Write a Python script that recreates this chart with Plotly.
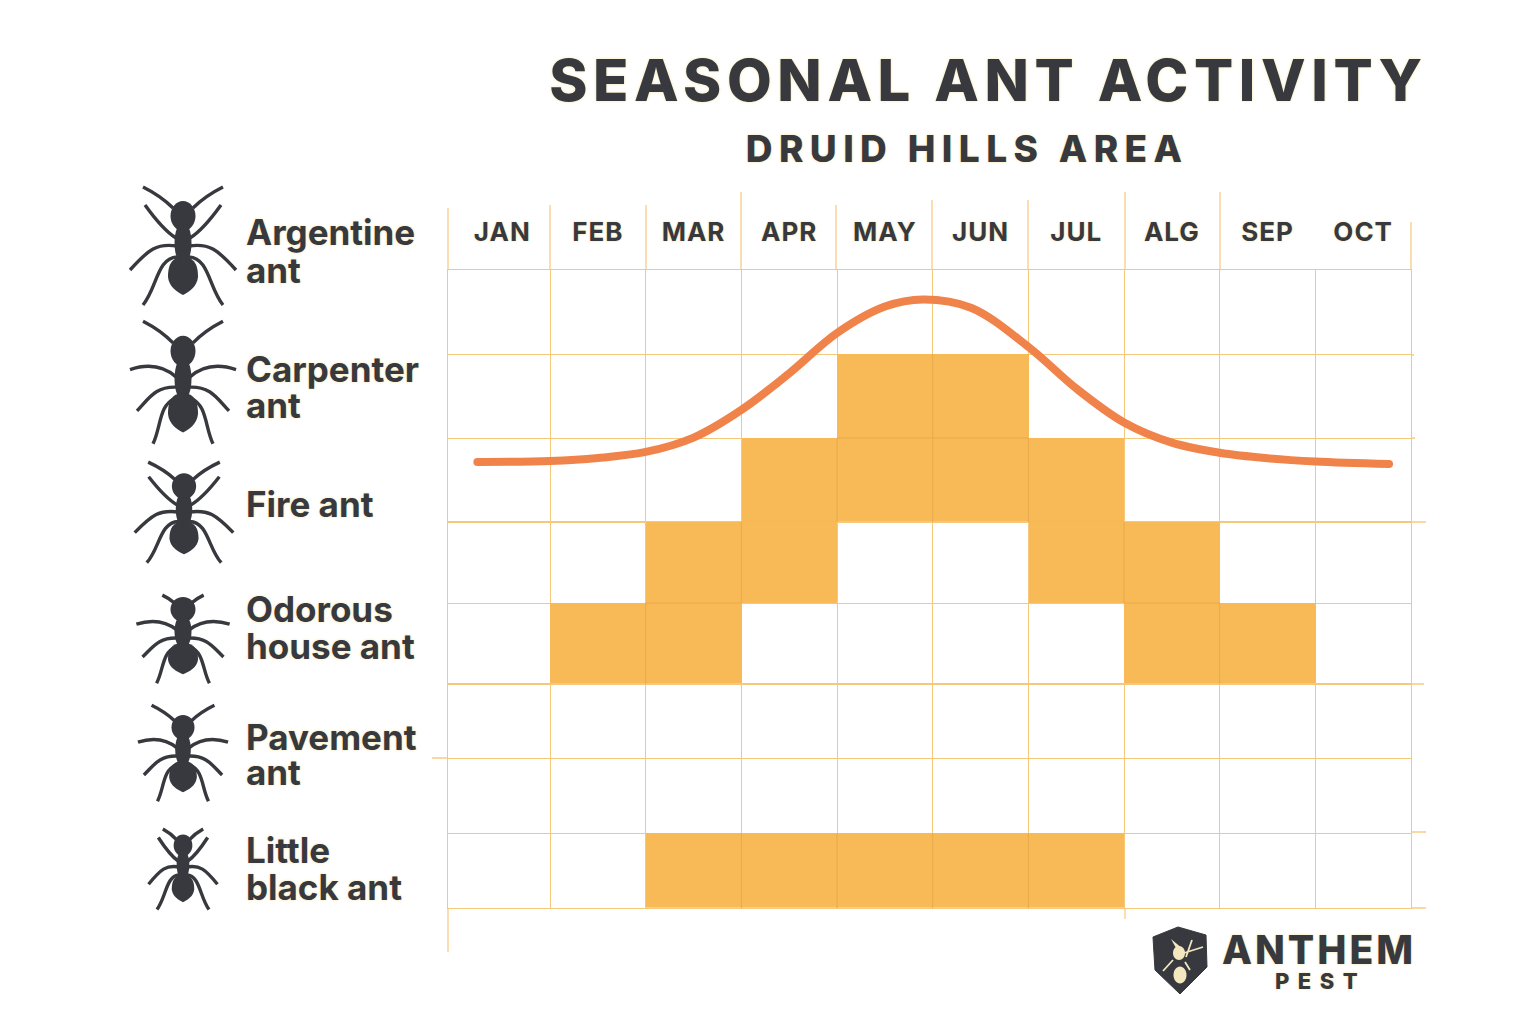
import plotly.graph_objects as go
from plotly.subplots import make_subplots

W, H = 1536, 1024
DARK = '#37393e'
GRID = '#f6c87c'
CELL = '#f7ba57'
SEAM = '#e8a94a'
CURVE = '#f0834a'
HALO = '0 0 3px #f3e2a0'
FONT = 'Inter'

# Data
months = ['JAN', 'FEB', 'MAR', 'APR', 'MAY', 'JUN', 'JUL', 'ALG', 'SEP', 'OCT']
month_idx = list(range(len(months)))
activity = [
    [0, 0, 0, 0, 0, 0, 0, 0, 0, 0],
    [0, 0, 0, 0, 1, 1, 0, 0, 0, 0],
    [0, 0, 0, 1, 1, 1, 1, 0, 0, 0],
    [0, 0, 1, 1, 0, 0, 1, 1, 0, 0],
    [0, 1, 1, 0, 0, 0, 0, 1, 1, 0],
    [0, 0, 0, 0, 0, 0, 0, 0, 0, 0],
    [0, 0, 0, 0, 0, 0, 0, 0, 0, 0],
    [0, 0, 1, 1, 1, 1, 1, 0, 0, 0],
]
curve_month = [-0.26, 0.5, 1.0, 1.5, 2.0, 2.5, 3.0, 3.5, 4.0, 4.4, 4.9, 5.5, 6.0, 6.5, 7.0, 7.5, 8.0, 8.5, 9.27]
curve_level = [23.8, 24.2, 25.4, 27.8, 33.5, 44.5, 59.0, 75.0, 85.5, 88.3, 85.0, 69.5, 53.0, 39.5, 31.5, 27.5, 25.3,
               24.0, 23.0]
ant_names = [['Argentine', 'ant'], ['Carpenter', 'ant'], ['Fire ant'],
             ['Odorous', 'house ant'], ['Pavement', 'ant'], ['Little', 'black ant']]


def px(x):
    return x / W


def py(y):
    return 1 - y / H


def pt(x, y):
    return f'{px(x):.5f},{py(y):.5f}'


def ellipse(cx, cy, rx, ry):
    k = 0.55
    return (f'M{pt(cx - rx, cy)} '
            f'C{pt(cx - rx, cy - k * ry)} {pt(cx - k * rx, cy - ry)} {pt(cx, cy - ry)} '
            f'C{pt(cx + k * rx, cy - ry)} {pt(cx + rx, cy - k * ry)} {pt(cx + rx, cy)} '
            f'C{pt(cx + rx, cy + k * ry)} {pt(cx + k * rx, cy + ry)} {pt(cx, cy + ry)} '
            f'C{pt(cx - k * rx, cy + ry)} {pt(cx - rx, cy + k * ry)} {pt(cx - rx, cy)} Z')


def filled(path, color=DARK):
    return dict(type='path', xref='paper', yref='paper', path=path, line=dict(color=color, width=0), fillcolor=color)


# leg outlines for the two ant poses, left side, offsets from the ant centre
LEGS_TALL = [
    [(-7, -8), (-20, -16), (-38, -41)],
    [(-6, 0), (-26, -3), (-34, 3), (-53, 24)],
    [(-6, 11), (-26, 12), (-26, 42), (-40, 59)],
]
LEGS_WIDE = [
    [(-7, -5), (-26, -21), (-53, -12)],
    [(-6, 5), (-28, 4), (-34, 16), (-46, 28)],
    [(-8, 16), (-24, 22), (-22, 44), (-30, 60)],
]


def ant_shapes(cx, cy, sx, sy, body, wide=False, feeler=1.0):
    line_path = ''
    antenna = [(-10, -38), (-10 - 12 * feeler, -38 - 12 * feeler), (-10 - 30 * feeler, -38 - 21 * feeler)]
    for side in (1, -1):
        for leg in [antenna] + (LEGS_WIDE if wide else LEGS_TALL):
            p = [(cx + side * dx * sx, cy + dy * sy) for dx, dy in leg]
            if len(p) == 3:
                line_path += f'M{pt(*p[0])} Q{pt(*p[1])} {pt(*p[2])} '
            else:
                line_path += f'M{pt(*p[0])} C{pt(*p[1])} {pt(*p[2])} {pt(*p[3])} '

    def gx(d):
        return cx + d * body

    def gy(d):
        return cy + d * sy
    abdomen = (f'M{pt(gx(0), gy(11))} '
               f'C{pt(gx(-12), gy(11))} {pt(gx(-15), gy(20))} {pt(gx(-15), gy(31))} '
               f'C{pt(gx(-14), gy(41))} {pt(gx(-6), gy(46))} {pt(gx(0), gy(49))} '
               f'C{pt(gx(6), gy(46))} {pt(gx(14), gy(41))} {pt(gx(15), gy(31))} '
               f'C{pt(gx(15), gy(20))} {pt(gx(12), gy(11))} {pt(gx(0), gy(11))} Z')
    return [
        dict(type='path', xref='paper', yref='paper', path=line_path, line=dict(color=DARK, width=3.4),
             fillcolor='rgba(0,0,0,0)'),
        filled(ellipse(cx, gy(-30), 12.5 * body, 15 * sy)),
        filled(ellipse(cx, gy(-3), 8.5 * body, 21 * sy)),
        filled(abdomen),
    ]


def stub(x0, y0, x1, y1, width=1.2):
    return dict(type='line', xref='paper', yref='paper', x0=px(x0), y0=py(y0), x1=px(x1), y1=py(y1),
                line=dict(color=GRID, width=width), layer='below')


# Three stacked bands because the row heights change down the chart
bands = [(270, 522, 0, 2), (522, 684, 3, 4), (684, 908, 5, 7)]
fig = make_subplots(rows=3, cols=1, shared_xaxes=True, vertical_spacing=0)

for i, (top, bottom, first, last) in enumerate(bands):
    row = i + 1
    fig.add_trace(go.Heatmap(z=activity, x=month_idx, y=list(range(len(activity))), zmin=0, zmax=1,
                             colorscale=[[0, 'rgba(255,255,255,0)'], [1, CELL]], showscale=False,
                             hoverinfo='skip'), row=row, col=1)
    fig.update_yaxes(domain=[py(bottom), py(top)], range=[last + 0.5, first - 0.5],
                     tickvals=[v + 0.5 for v in range(first, last)], ticks='', showticklabels=False,
                     showgrid=True, gridcolor=GRID, gridwidth=1.4, zeroline=False,
                     showline=True, linecolor=GRID, linewidth=1, mirror=True, row=row, col=1)
    fig.update_xaxes(domain=[px(448), px(1411)], range=[-0.567, 9.5], tickvals=month_idx, ticktext=months,
                     ticks='', showticklabels=False, showgrid=False, zeroline=False,
                     minor=dict(tickvals=[m + 0.5 for m in month_idx[:-1]], showgrid=True, gridcolor=GRID,
                                gridwidth=1.3, ticks=''),
                     showline=True, linecolor=GRID, linewidth=1, mirror=True, row=row, col=1)

fig.update_xaxes(showticklabels=True, side='top', ticklabelstandoff=18,
                 tickfont=dict(family=FONT, size=26, color=DARK, weight=700, shadow=HALO), row=1, col=1)

# activity curve sits on its own hidden scale over the top band
fig.add_trace(go.Scatter(x=curve_month, y=curve_level, mode='lines', yaxis='y4', xaxis='x',
                         line=dict(color=CURVE, width=8, shape='spline', smoothing=1), hoverinfo='skip',
                         showlegend=False))
fig.add_trace(go.Scatter(x=[curve_month[0], curve_month[-1]], y=[curve_level[0], curve_level[-1]], mode='markers',
                         yaxis='y4', xaxis='x', marker=dict(color=CURVE, size=8), hoverinfo='skip', showlegend=False))

shapes = []


def band_ref(r):
    for n, (_, _, first, last) in enumerate(bands):
        if first <= r <= last:
            return 'y' if n == 0 else f'y{n + 1}'


# faint seams between neighbouring filled cells
for r, cells in enumerate(activity):
    for c, on in enumerate(cells):
        if not on:
            continue
        if c + 1 < len(cells) and cells[c + 1]:
            shapes.append(dict(type='line', xref='x', yref=band_ref(r), x0=c + 0.5, x1=c + 0.5, y0=r - 0.5, y1=r + 0.5,
                               line=dict(color=SEAM, width=1), layer='above'))
        if r + 1 < len(activity) and activity[r + 1][c]:
            shapes.append(dict(type='line', xref='x', yref=band_ref(r), x0=c - 0.5, x1=c + 0.5, y0=r + 0.5, y1=r + 0.5,
                               line=dict(color=SEAM, width=1), layer='above'))

# grid lines that run past the plot area
for x, y0 in [(448, 208), (550, 205), (646, 205), (741, 192), (836, 205), (932, 200), (1028, 200), (1125, 192),
              (1220, 192), (1411, 222)]:
    shapes.append(stub(x, y0, x, 270))
shapes.append(stub(448, 908, 448, 952))
shapes.append(stub(1125, 908, 1125, 919))
for y, x0, x1 in [(522, 1411, 1426), (684, 1411, 1424), (832, 1411, 1426), (758, 432, 448), (908, 1411, 1426),
                  (355, 1411, 1414), (438, 1411, 1415)]:
    shapes.append(stub(x0, y, x1, y, 1.4))

# ant icons: centre x, centre y, x scale, y scale, body scale, pose, antenna length
for cx, cy, sx, sy, body, wide, feeler in [
    (183, 246, 1.0, 1.0, 1.0, False, 1.0), (183, 382, 1.0, 1.03, 1.0, True, 1.0),
    (184, 512, 0.93, 0.86, 0.97, False, 0.95), (183, 634, 0.88, 0.82, 1.0, True, 0.45),
    (183, 752, 0.85, 0.82, 0.92, True, 0.9), (183, 867, 0.65, 0.72, 0.75, False, 0.7),
]:
    shapes += ant_shapes(cx, cy, sx, sy, body, wide, feeler)

# logo shield
shield = [(1153, 937), (1178, 927), (1206, 935), (1207, 967), (1180, 994), (1155, 970)]
shapes.append(dict(type='path', xref='paper', yref='paper', fillcolor=DARK, line=dict(color=DARK, width=1),
                   path='M' + ' L'.join(pt(*p) for p in shield) + ' Z'))
PALE = '#f3e7c0'
shapes.append(filled(ellipse(1180, 975, 6.5, 8.5), PALE))
shapes.append(filled(ellipse(1179, 953, 6, 7), PALE))
shapes.append(filled(f'M{pt(1171, 939)} L{pt(1176, 948)} L{pt(1183, 949)} Z', PALE))
shapes.append(dict(type='path', xref='paper', yref='paper', fillcolor='rgba(0,0,0,0)', line=dict(color=PALE, width=1.8),
                   path=f'M{pt(1184, 953)} L{pt(1203, 947)} M{pt(1186, 957)} L{pt(1192, 940)} '
                        f'M{pt(1173, 960)} L{pt(1163, 971)} M{pt(1185, 962)} L{pt(1190, 970)}'))

annotations = []


def add_text(text, x, y, size, weight=700, color=DARK, anchor='center'):
    annotations.append(dict(text=text, x=px(x), y=py(y), xref='paper', yref='paper', xanchor=anchor, yanchor='middle',
                            showarrow=False, font=dict(family=FONT, size=size, color=color, weight=weight,
                                                       shadow=HALO)))


add_text('SEASONAL ANT ACTIVITY', 988, 80, 58, weight=800)
add_text('DRUID HILLS AREA', 967, 148, 37, weight=800)
add_text('ANTHEM', 1319, 949, 39, weight=800)
add_text('PEST', 1320, 981, 22, weight=800)

label_y = [[232, 270], [369, 405], [504], [609, 646], [737, 772], [850, 887]]
for lines, ys in zip(ant_names, label_y):
    for text, y in zip(lines, ys):
        add_text(text, 244, y, 35, color=DARK, anchor='left')

fig.update_layout(
    width=W, height=H, margin=dict(l=0, r=0, t=0, b=0, pad=0), paper_bgcolor='white', plot_bgcolor='white',
    showlegend=False, shapes=shapes, annotations=annotations,
    yaxis4=dict(overlaying='y', domain=[py(522), py(270)], range=[0, 100], visible=False),
)

# plotly has no letter spacing option, so it is set on the drawn text afterwards
post = """
document.body.style.margin = '0';
document.body.style.overflow = 'hidden';
var spacing = {'SEASONAL ANT ACTIVITY': '5.6px', 'DRUID HILLS AREA': '6.4px', 'ANTHEM': '3px', 'PEST': '8.5px'};
document.querySelectorAll('.annotation-text').forEach(function (t) {
    if (spacing[t.textContent]) { t.style.letterSpacing = spacing[t.textContent]; }
});
document.querySelectorAll('.xtick text').forEach(function (t) { t.style.letterSpacing = '1px'; });
"""
fig.write_html("out.html", post_script=post, config=dict(displayModeBar=False))
